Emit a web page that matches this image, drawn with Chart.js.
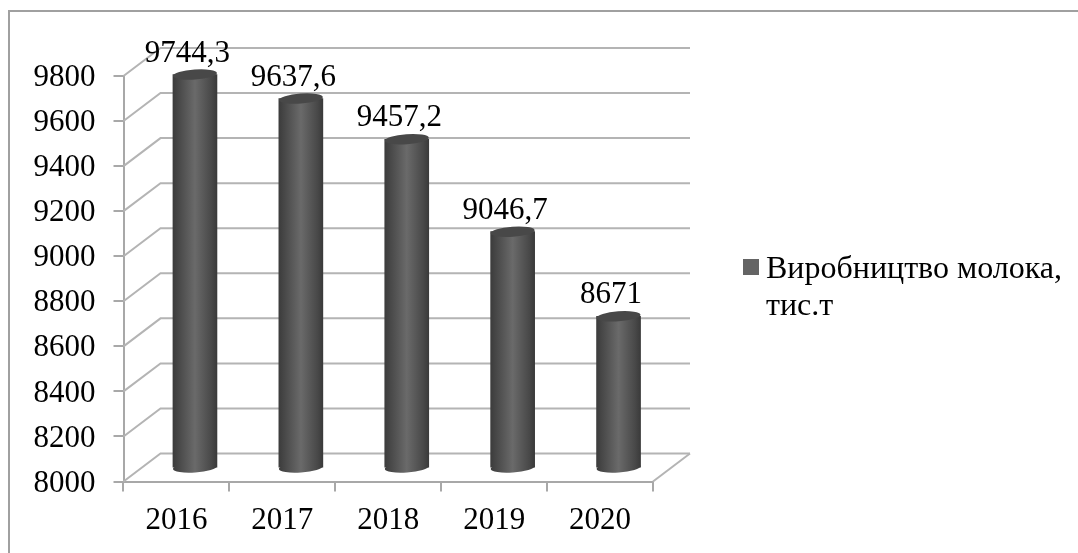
<!DOCTYPE html>
<html><head><meta charset="utf-8">
<style>html,body{margin:0;padding:0;background:#fff}canvas{display:block;filter:blur(.45px)}</style>
<script src="https://cdn.jsdelivr.net/npm/chart.js@4"></script></head>
<body><canvas id="c" width="1078" height="553" style="width:1078px;height:553px"></canvas>
<script>
const categories=['2016','2017','2018','2019','2020'];
const milkValues=[9744.3,9637.6,9457.2,9046.7,8671];
const valueLabels=['9744,3','9637,6','9457,2','9046,7','8671'];
const seriesName='Виробництво молока,';
const seriesNameLine2='тис.т';
const yMin=8000,yMax=9800,yStep=200;

const DX=37,DY=28,FONT='"Liberation Serif"',GRID='#b4b4b4',AXIS='#a8a8a8';
const BARW=44,RY=5,TILT=-0.07;
function cylGrad(ctx,x){
 if(!Number.isFinite(x))return '#595959';
 const g=ctx.createLinearGradient(x-BARW/2,0,x+BARW/2,0);
 g.addColorStop(0,'#3c3c3c');g.addColorStop(.12,'#474747');g.addColorStop(.5,'#6a6a6a');g.addColorStop(.88,'#484848');g.addColorStop(1,'#3a3a3a');return g;}

const cylinder={id:'cylinder',
 afterLayout(chart){
  const y=chart.scales.y;
  if(!y._shifted){const orig=y.drawLabels.bind(y);y._shifted=true;
   y.drawLabels=function(a){const c=chart.ctx;c.save();c.translate(0,2);orig(a);c.restore();};}
 },
 beforeDatasetsDraw(chart){
  const {ctx,scales:{x,y}}=chart;
  ctx.save();ctx.lineWidth=2;ctx.strokeStyle=GRID;
  const L=x.left,R=x.right;
  y.ticks.forEach(t=>{const p=y.getPixelForValue(t.value);
   ctx.beginPath();ctx.moveTo(L,p);ctx.lineTo(L+DX,p-DY);ctx.lineTo(R+DX,p-DY);ctx.stroke();});
  const b=y.bottom;ctx.beginPath();ctx.moveTo(R,b);ctx.lineTo(R+DX,b-DY);ctx.stroke();
  ctx.restore();
  ctx.save();ctx.translate(DX/2,-DY/2);
 },
 afterDatasetsDraw(chart){
  const {ctx,scales:{y}}=chart;const bars=chart.getDatasetMeta(0).data;
  const base=y.getPixelForValue(yMin);
  bars.forEach(b=>{
   ctx.fillStyle=cylGrad(ctx,b.x);
   ctx.beginPath();ctx.ellipse(b.x,base,BARW/2,RY,TILT,0,Math.PI*2);ctx.fill();
   ctx.fillStyle='#484848';
   ctx.beginPath();ctx.ellipse(b.x,b.y,BARW/2,RY,TILT,0,Math.PI*2);ctx.fill();
  });
  ctx.restore();
  ctx.save();ctx.fillStyle='#000';ctx.font='31px '+FONT;ctx.textAlign='center';ctx.textBaseline='alphabetic';
  bars.forEach((b,i)=>ctx.fillText(valueLabels[i],b.x+DX/2-7.5,b.y-DY/2-13));
  ctx.restore();
 },
 afterDraw(chart){
  const {ctx}=chart;ctx.save();
  ctx.strokeStyle='#a0a0a0';ctx.lineWidth=2;
  ctx.beginPath();ctx.moveTo(9,553);ctx.lineTo(9,11);ctx.lineTo(1078,11);ctx.stroke();
  ctx.fillStyle='#646464';ctx.fillRect(743,259,16,16);
  ctx.fillStyle='#000';ctx.font='32px '+FONT;ctx.textBaseline='alphabetic';
  ctx.fillText(seriesName,766,278);ctx.fillText(seriesNameLine2,766,315);
  ctx.restore();
 }};

new Chart(document.getElementById('c'),{type:'bar',plugins:[cylinder],
 data:{labels:categories,datasets:[{label:seriesName+' '+seriesNameLine2,data:milkValues,barThickness:BARW,
  backgroundColor:c=>cylGrad(c.chart.ctx,c.chart.scales.x.getPixelForValue(c.dataIndex)),borderWidth:0}]},
 options:{responsive:false,animation:false,devicePixelRatio:1,
  layout:{padding:{top:76,right:425,left:0,bottom:0}},
  plugins:{legend:{display:false},tooltip:{enabled:false}},
  scales:{
   x:{afterFit:s=>{s.height=71.5},offset:true,
    grid:{display:true,drawOnChartArea:false,drawTicks:true,tickLength:10,color:AXIS,lineWidth:2,offset:true},
    border:{color:AXIS,width:2},
    ticks:{color:'#000',font:{family:FONT,size:31},padding:11,maxRotation:0}},
   y:{min:yMin,max:yMax,afterFit:s=>{s.width=123.5},
    afterBuildTicks:s=>{s.ticks=[];for(let v=yMin;v<=yMax;v+=yStep)s.ticks.push({value:v});},
    grid:{display:true,drawOnChartArea:false,drawTicks:true,tickLength:10,color:AXIS,lineWidth:2},
    border:{color:AXIS,width:2},
    ticks:{color:'#000',font:{family:FONT,size:31},padding:18,stepSize:yStep,callback:v=>String(v)}}
  }}});
</script></body></html>
